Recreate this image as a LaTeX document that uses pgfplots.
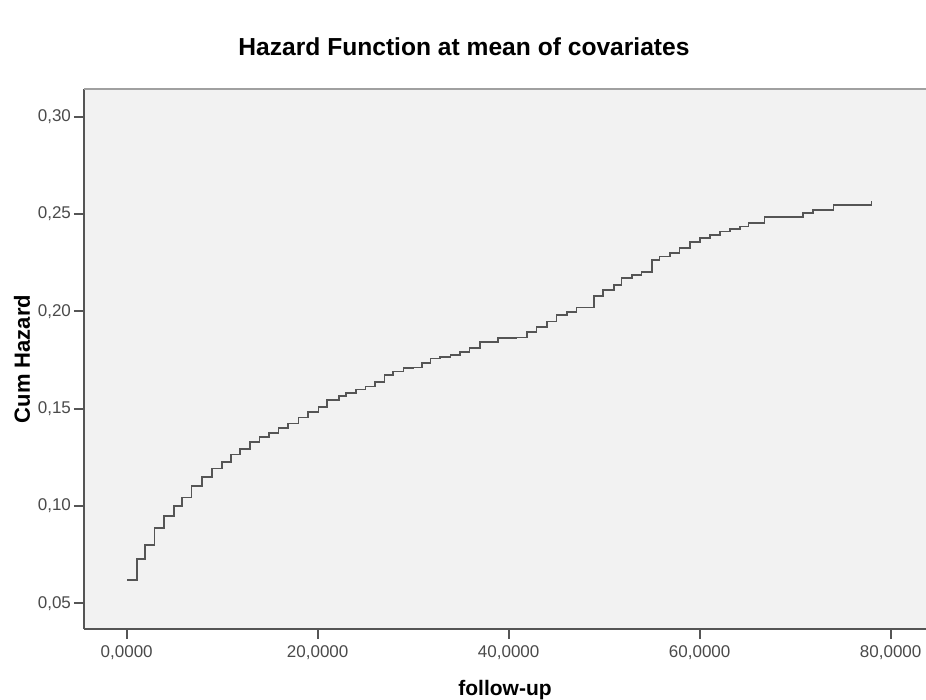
\documentclass[border=0pt]{standalone}
\usepackage{pgfplots}
\pgfplotsset{compat=1.18}
\usepackage{fontspec}
\setmainfont{Liberation Sans}
\usetikzlibrary{calc}
\definecolor{bg}{HTML}{F2F2F2}
\definecolor{axcol}{HTML}{555555}
\definecolor{topcol}{HTML}{A0A0A0}
\definecolor{linecol}{HTML}{555555}
\definecolor{ticktext}{HTML}{4A4A4A}
\pgfplotstableread{
x y
0.05 0.0619
1.05 0.0726
1.9 0.0799
2.9 0.0888
3.9 0.0950
4.95 0.1000
5.8 0.1044
6.8 0.1102
7.85 0.1147
8.9 0.1193
9.95 0.1227
10.9 0.1265
11.9 0.1292
12.9 0.1330
13.9 0.1355
14.9 0.1375
15.9 0.1399
16.9 0.1424
18.0 0.1455
19.0 0.1484
20.1 0.1510
21.0 0.1544
22.2 0.1565
23.0 0.1582
24.0 0.1599
25.0 0.1613
26.0 0.1638
27.0 0.1673
27.9 0.1690
29.0 0.1707
30.0 0.1712
30.9 0.1735
31.8 0.1758
32.8 0.1764
33.9 0.1775
34.9 0.1792
35.9 0.1813
37.0 0.1844
38.9 0.1861
40.8 0.1866
41.9 0.1895
42.9 0.1921
44.0 0.1947
45.0 0.1981
46.1 0.1998
47.1 0.2020
48.9 0.2080
49.9 0.2109
51.0 0.2135
51.8 0.2170
52.9 0.2187
53.9 0.2203
55.0 0.2264
55.8 0.2281
56.9 0.2298
57.9 0.2324
59.0 0.2355
60.0 0.2375
61.1 0.2392
62.1 0.2410
63.2 0.2423
64.2 0.2435
65.1 0.2452
66.8 0.2484
70.8 0.2504
71.9 0.2520
74.0 0.2546
78.0 0.2568
}\hazard
\begin{document}
\begin{tikzpicture}
\begin{axis}[
  name=ax,
  scale only axis,
  width=421pt, height=270pt,
  xmin=-4.47, xmax=83.7,
  ymin=0.0368, ymax=0.3142,
  axis background/.style={fill=bg},
  axis x line*=bottom, axis y line*=left,
  axis line style={axcol, line width=1pt},
  xtick={0,20,40,60,80},
  xticklabels={{0,0000},{20,0000},{40,0000},{60,0000},{80,0000}},
  ytick={0.05,0.1,0.15,0.2,0.25,0.3},
  yticklabels={{0,05},{0,10},{0,15},{0,20},{0,25},{0,30}},
  tick align=outside,
  major tick length=5pt,
  tick style={axcol, line width=0.9pt},
  ticklabel style={font=\fontsize{8.5}{10}\selectfont, text=ticktext},
  yticklabel style={xshift=2pt},
  title={Hazard Function at mean of covariates},
  title style={at={(axis description cs:0.4513,1.0556)}, anchor=center, font=\bfseries\fontsize{12.3}{14}\selectfont},
  xlabel={follow-up},
  xlabel style={at={(axis description cs:0.5,-0.113)}, anchor=center, font=\bfseries\fontsize{10.5}{12}\selectfont},
  ylabel={Cum Hazard},
  ylabel style={at={(axis description cs:-0.0736,0.5)}, anchor=center, font=\bfseries\fontsize{11}{12}\selectfont},
  after end axis/.code={\draw[topcol, line width=1pt] (rel axis cs:0,1) -- (rel axis cs:1,1);},
]
\addplot[const plot, color=linecol, line width=0.85pt] table[x=x,y=y] {\hazard};
\end{axis}
\pgfresetboundingbox
\path ($(ax.south west)+(-42pt,-35.5pt)$) rectangle ($(ax.north east)+(0pt,44.5pt)$);
\end{tikzpicture}
\end{document}
